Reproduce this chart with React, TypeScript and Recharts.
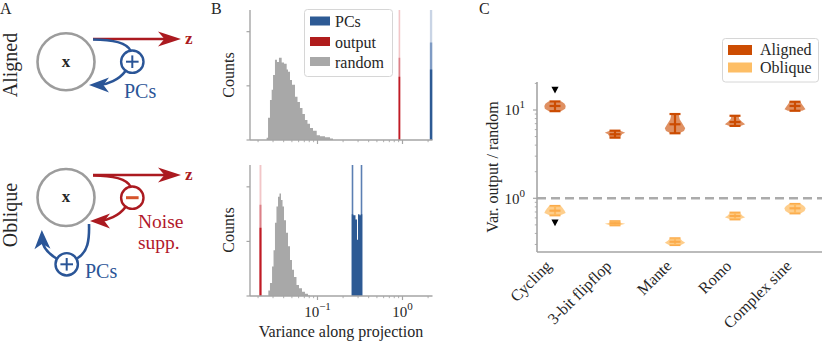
import React from "react";
import { ComposedChart, Area, Scatter, ErrorBar, XAxis, YAxis, ReferenceLine } from "recharts";

const FONT = '"Liberation Serif", "Times New Roman", serif';
const INK = "#262626";
const SPINE = "#a5a5a5";
const BLUE = "#2d5a94";
const RED = "#b2182b";
const GRAY = "#a8a8a8";
const ALIGNED = "#cc4c02";
const OBLIQUE = "#fdbe66";
const OBLIQUE_LINE = "#fbab4b";

// ---------- panel B: variance along projections (log x, counts y)
const B_TICKS = [0.02, 0.03, 0.04, 0.05, 0.06, 0.07, 0.08, 0.09, 0.1, 0.2, 0.3, 0.4, 0.5, 0.6, 0.7, 0.8, 0.9, 1, 2];
const B_MAJOR = [0.1, 1];
const B_EXP = ["\u22121", "0"];
const COUNT_TICKS = [0, 100, 200];

// bin left edges, counts (last edge closes the histogram)
const RANDOM_TOP_EDGES = [0.0252, 0.0262, 0.0276, 0.0289, 0.03, 0.0316, 0.0334, 0.0352, 0.0379, 0.0404, 0.0434, 0.045, 0.0475, 0.0501, 0.0544, 0.0582, 0.0622, 0.0666, 0.0712, 0.0762, 0.0816, 0.0885, 0.0979, 0.107, 0.1225, 0.1403, 0.1522];
const RANDOM_TOP_COUNTS = [4, 41, 74, 93, 120, 148, 144, 152, 143, 141, 130, 126, 111, 102, 80, 70, 59, 48, 37, 30, 22, 17, 9, 7, 5, 3, 0];
const OUTPUT_TOP_EDGES = [0.9, 0.94];
const OUTPUT_TOP_LIGHT = [240, 0];
const OUTPUT_TOP_MID = [152, 0];
const OUTPUT_TOP_DARK = [117, 0];
const PCS_TOP_EDGES = [2.1, 2.25];
const PCS_TOP_LIGHT = [240, 0];
const PCS_TOP_MID = [180, 0];
const PCS_TOP_DARK = [130, 0];

const RANDOM_BOT_EDGES = [0.0264, 0.0276, 0.0292, 0.0304, 0.0316, 0.0329, 0.0343, 0.0357, 0.0372, 0.0388, 0.0404, 0.0426, 0.045, 0.0475, 0.0501, 0.0529, 0.0566, 0.0606, 0.0657, 0.0712, 0.0773, 0.0816];
const RANDOM_BOT_COUNTS = [10, 24, 54, 84, 134, 164, 182, 188, 176, 164, 139, 116, 91, 66, 48, 35, 20, 14, 8, 4, 1, 0];
const OUTPUT_BOT_EDGES = [0.0208, 0.0219];
const OUTPUT_BOT_LIGHT = [240, 0];
const OUTPUT_BOT_MID = [167, 0];
const OUTPUT_BOT_DARK = [125, 0];
const PCS_BOT_SPIKE_EDGES = [0.2526, 0.2638, 0.3224, 0.3367];
const PCS_BOT_SPIKE_COUNTS = [240, 0, 240, 0];
const PCS_BOT_EDGES = [0.2526, 0.2638, 0.28, 0.2917, 0.2997, 0.3122, 0.3224, 0.3367];
const PCS_BOT_COUNTS = [150, 148, 140, 103, 150, 148, 150, 0];

// ---------- panel C: var(output) / var(random) per task
const TASKS = ["Cycling", "3-bit flipflop", "Mante", "Romo", "Complex sine"];
const TASK_TICKS = [0, 1, 2, 3, 4];
const C_TICKS = [0.3, 0.4, 0.5, 0.6, 0.7, 0.8, 0.9, 1, 2, 3, 4, 5, 6, 7, 8, 9, 10, 20];
const C_MAJOR = [1, 10];
const C_EXP = ["0", "1"];

const ALIGNED_MIN = [9.7, 4.86, 5.45, 6.6, 9.8];
const ALIGNED_MED = [11.1, 5.31, 6.89, 7.31, 11.1];
const ALIGNED_MAX = [12.5, 5.83, 9.0, 8.6, 12.4];
const OBLIQUE_MIN = [0.642, 0.495, 0.296, 0.578, 0.676];
const OBLIQUE_MED = [0.724, 0.521, 0.322, 0.63, 0.77];
const OBLIQUE_MAX = [0.818, 0.549, 0.352, 0.687, 0.862];

// violin outlines: levels bottom -> top and density half-widths
const ALIGNED_LEVELS = [
  [9.7, 10.3, 11.1, 11.8, 12.5],
  [4.86, 5.1, 5.35, 5.53, 5.7, 5.83],
  [5.45, 5.8, 6.2, 6.9, 7.8, 9.0],
  [6.6, 6.9, 7.3, 7.9, 8.6],
  [9.8, 10.2, 11.0, 11.8, 12.4],
];
const ALIGNED_WIDTHS = [
  [0.1, 0.17, 0.178, 0.16, 0.11],
  [0.083, 0.1, 0.12, 0.17, 0.12, 0.083],
  [0.07, 0.15, 0.17, 0.13, 0.08, 0.06],
  [0.09, 0.17, 0.12, 0.07, 0.06],
  [0.12, 0.175, 0.14, 0.11, 0.09],
];
const OBLIQUE_LEVELS = [
  [0.642, 0.68, 0.724, 0.77, 0.818],
  [0.495, 0.515, 0.53, 0.549],
  [0.296, 0.314, 0.33, 0.352],
  [0.578, 0.609, 0.63, 0.687],
  [0.676, 0.72, 0.77, 0.82, 0.862],
];
const OBLIQUE_WIDTHS = [
  [0.09, 0.178, 0.16, 0.13, 0.1],
  [0.08, 0.17, 0.09, 0.08],
  [0.1, 0.17, 0.12, 0.08],
  [0.08, 0.17, 0.13, 0.08],
  [0.1, 0.16, 0.178, 0.15, 0.1],
];
const MARK_X = [0, 0];
const MARK_Y = [16.85, 0.529];

const hist = (edges: number[], counts: number[]) => edges.map((x, i) => ({ x, n: counts[i] }));

function outline(i: number, levels: number[], widths: number[]) {
  const right = levels.map((y, k) => ({ x: i + widths[k], y }));
  const left = levels.map((y, k) => ({ x: i - widths[k], y })).reverse();
  return [...right, ...left];
}

function stats(mins: number[], meds: number[], maxs: number[]) {
  return meds.map((m, i) => ({ x: i, y: m, err: [m - mins[i], maxs[i] - m] }));
}

const noShape = () => <g />;

function XLogTick(props: any) {
  const { x, y, payload, labels } = props;
  const k = B_MAJOR.indexOf(payload.value);
  return (
    <g>
      <line x1={x} x2={x} y1={y} y2={y + (k >= 0 ? 4 : 2.2)} stroke={SPINE} strokeWidth={k >= 0 ? 1.2 : 0.9} />
      {labels && k >= 0 && (
        <text x={x} y={y + 21} textAnchor="middle" fill={INK} fontFamily={FONT} fontSize={15}>
          10<tspan dy={-7} fontSize={11}>{B_EXP[k]}</tspan>
        </text>
      )}
    </g>
  );
}

function CountTick(props: any) {
  const { x, y } = props;
  return <line x1={x} x2={x - 3.5} y1={y} y2={y} stroke={SPINE} strokeWidth={1.2} />;
}

function CYTick(props: any) {
  const { x, y, payload } = props;
  const k = C_MAJOR.indexOf(payload.value);
  return (
    <g>
      <line x1={x} x2={x - (k >= 0 ? 4 : 2.2)} y1={y} y2={y} stroke={SPINE} strokeWidth={k >= 0 ? 1.2 : 0.9} />
      {k >= 0 && (
        <text x={x - 12} y={y + 5.5} textAnchor="end" fill={INK} fontFamily={FONT} fontSize={15}>
          10<tspan dy={-7} fontSize={11}>{C_EXP[k]}</tspan>
        </text>
      )}
    </g>
  );
}

function TaskTick(props: any) {
  const { x, y, payload } = props;
  const ax = x - 2.5;
  const ay = y + 15;
  return (
    <text x={ax} y={ay} transform={`rotate(-45 ${ax} ${ay})`} textAnchor="end" fill={INK} fontFamily={FONT} fontSize={16}>
      {TASKS[payload.value]}
    </text>
  );
}

type Layer = { data: { x: number; n: number }[]; fill: string };

function HistChart({ top, height, xHeight, labels, layers }: { top: number; height: number; xHeight: number; labels: boolean; layers: Layer[] }) {
  return (
    <div style={{ position: "absolute", left: 200, top }}>
      <ComposedChart width={241} height={height} margin={{ top: 10, right: 8.5, bottom: 0, left: 0 }}>
        <XAxis
          type="number"
          dataKey="x"
          scale="log"
          domain={[0.01607, 2.254]}
          allowDataOverflow
          ticks={B_TICKS}
          interval={0}
          tickLine={false}
          tickSize={0}
          tickMargin={0}
          height={xHeight}
          axisLine={{ stroke: SPINE, strokeWidth: 1.4 }}
          tick={(p: any) => <XLogTick {...p} labels={labels} />}
        />
        <YAxis
          type="number"
          domain={[0, 240]}
          allowDataOverflow
          ticks={COUNT_TICKS}
          interval={0}
          width={50}
          tickLine={false}
          tickSize={0}
          tickMargin={0}
          axisLine={{ stroke: SPINE, strokeWidth: 1.4 }}
          tick={CountTick}
        />
        {layers.map((l, i) => (
          <Area key={i} data={l.data} dataKey="n" type="stepAfter" fill={l.fill} fillOpacity={1} stroke="none" isAnimationActive={false} legendType="none" />
        ))}
      </ComposedChart>
    </div>
  );
}

const TOP_LAYERS: Layer[] = [
  { data: hist(RANDOM_TOP_EDGES, RANDOM_TOP_COUNTS), fill: GRAY },
  { data: hist(OUTPUT_TOP_EDGES, OUTPUT_TOP_LIGHT), fill: "#f2c6c8" },
  { data: hist(OUTPUT_TOP_EDGES, OUTPUT_TOP_MID), fill: "#dc8088" },
  { data: hist(OUTPUT_TOP_EDGES, OUTPUT_TOP_DARK), fill: "#c01b25" },
  { data: hist(PCS_TOP_EDGES, PCS_TOP_LIGHT), fill: "#c9d4e5" },
  { data: hist(PCS_TOP_EDGES, PCS_TOP_MID), fill: "#7f9bc4" },
  { data: hist(PCS_TOP_EDGES, PCS_TOP_DARK), fill: BLUE },
];

const BOT_LAYERS: Layer[] = [
  { data: hist(RANDOM_BOT_EDGES, RANDOM_BOT_COUNTS), fill: GRAY },
  { data: hist(OUTPUT_BOT_EDGES, OUTPUT_BOT_LIGHT), fill: "#f2c6c8" },
  { data: hist(OUTPUT_BOT_EDGES, OUTPUT_BOT_MID), fill: "#dc8088" },
  { data: hist(OUTPUT_BOT_EDGES, OUTPUT_BOT_DARK), fill: "#c01b25" },
  { data: hist(PCS_BOT_SPIKE_EDGES, PCS_BOT_SPIKE_COUNTS), fill: "#5b7fb3" },
  { data: hist(PCS_BOT_EDGES, PCS_BOT_COUNTS), fill: BLUE },
];

function MedianMark(color: string) {
  return (p: any) => <line x1={p.cx - 5.5} x2={p.cx + 5.5} y1={p.cy} y2={p.cy} stroke={color} strokeWidth={2.2} />;
}

function DownTri(p: any) {
  return <polygon points={`${p.cx - 3.6},${p.cy - 3.3} ${p.cx + 3.6},${p.cy - 3.3} ${p.cx},${p.cy + 3.6}`} fill="#000" />;
}

function RatioChart() {
  return (
    <div style={{ position: "absolute", left: 480, top: 0 }}>
      <ComposedChart width={351} height={348} margin={{ top: 82, right: 9, bottom: 0, left: 0 }}>
        <XAxis
          type="number"
          dataKey="x"
          domain={[-0.3, 4.45]}
          allowDataOverflow
          ticks={TASK_TICKS}
          interval={0}
          tickLine={false}
          tickSize={0}
          tickMargin={0}
          height={96}
          axisLine={{ stroke: SPINE, strokeWidth: 1.6 }}
          tick={TaskTick}
        />
        <YAxis
          type="number"
          dataKey="y"
          scale="log"
          domain={[0.2465, 20.75]}
          allowDataOverflow
          ticks={C_TICKS}
          interval={0}
          width={57}
          tickLine={false}
          tickSize={0}
          tickMargin={0}
          axisLine={{ stroke: SPINE, strokeWidth: 1.6 }}
          tick={CYTick}
        />
        <ReferenceLine y={1} stroke="#ababab" strokeWidth={2.4} strokeDasharray="9 5" />
        {ALIGNED_LEVELS.map((lv, i) => (
          <Scatter
            key={"a" + i}
            data={outline(i, lv, ALIGNED_WIDTHS[i])}
            fill={ALIGNED}
            line={{ fill: ALIGNED, fillOpacity: 0.62, stroke: "none" }}
            lineType="joint"
            lineJointType="linearClosed"
            shape={noShape}
            isAnimationActive={false}
            legendType="none"
          />
        ))}
        {OBLIQUE_LEVELS.map((lv, i) => (
          <Scatter
            key={"o" + i}
            data={outline(i, lv, OBLIQUE_WIDTHS[i])}
            fill={OBLIQUE}
            line={{ fill: OBLIQUE, fillOpacity: 0.75, stroke: "none" }}
            lineType="joint"
            lineJointType="linearClosed"
            shape={noShape}
            isAnimationActive={false}
            legendType="none"
          />
        ))}
        <Scatter data={stats(ALIGNED_MIN, ALIGNED_MED, ALIGNED_MAX)} shape={MedianMark(ALIGNED)} isAnimationActive={false} legendType="none">
          <ErrorBar dataKey="err" direction="y" width={5.5} stroke={ALIGNED} strokeWidth={2.2} isAnimationActive={false} />
        </Scatter>
        <Scatter data={stats(OBLIQUE_MIN, OBLIQUE_MED, OBLIQUE_MAX)} shape={MedianMark(OBLIQUE_LINE)} isAnimationActive={false} legendType="none">
          <ErrorBar dataKey="err" direction="y" width={5.5} stroke={OBLIQUE_LINE} strokeWidth={2.2} isAnimationActive={false} />
        </Scatter>
        <Scatter data={MARK_X.map((x, i) => ({ x, y: MARK_Y[i] }))} shape={DownTri} isAnimationActive={false} legendType="none" />
      </ComposedChart>
    </div>
  );
}

function Head({ x, y, angle, color, len = 21, half = 7.5 }: { x: number; y: number; angle: number; color: string; len?: number; half?: number }) {
  const a = (angle * Math.PI) / 180;
  const c = Math.cos(a);
  const s = Math.sin(a);
  const pt = (u: number, v: number) => `${x + u * c - v * s},${y + u * s + v * c}`;
  return <polygon points={[pt(0, 0), pt(-len, -half), pt(-len * 0.72, 0), pt(-len, half)].join(" ")} fill={color} />;
}

const DBLUE = "#2a5597";
const DRED = "#ab1a20";

function Overlay() {
  const t = { fontFamily: FONT, fill: INK };
  return (
    <svg width={831} height={348} style={{ position: "absolute", left: 0, top: 0, pointerEvents: "none" }}>
      {/* panel letters */}
      <text x={0} y={13.5} fontSize={16} {...t}>A</text>
      <text x={211} y={13.5} fontSize={16} {...t}>B</text>
      <text x={479} y={13.5} fontSize={16} {...t}>C</text>

      {/* panel A: aligned */}
      <text x={16.5} y={65} fontSize={20} textAnchor="middle" transform="rotate(-90 16.5 65)" {...t}>Aligned</text>
      <circle cx={66} cy={61.7} r={28.5} fill="none" stroke="#9c9c9c" strokeWidth={2.6} />
      <text x={66} y={66.5} fontSize={17} fontWeight="bold" textAnchor="middle" {...t}>x</text>
      <line x1={93} y1={39} x2={170} y2={39} stroke={DRED} strokeWidth={2.6} />
      <Head x={181} y={39} angle={0} color={DRED} len={23} />
      <text x={185} y={43.5} fontSize={17} fontWeight="bold" fontFamily={FONT} fill={DRED}>z</text>
      <path d="M93 39.5 C112 39.5 126 42 130.5 50.5" fill="none" stroke={DBLUE} strokeWidth={2.6} />
      <circle cx={132.3} cy={61.7} r={11.2} fill="#fff" stroke={DBLUE} strokeWidth={2.4} />
      <line x1={126} x2={138.6} y1={61.7} y2={61.7} stroke={DBLUE} strokeWidth={2} />
      <line x1={132.3} x2={132.3} y1={55.4} y2={68} stroke={DBLUE} strokeWidth={2} />
      <path d="M125.5 71 C119 80 107 84.5 100 84.8" fill="none" stroke={DBLUE} strokeWidth={2.6} />
      <Head x={89} y={85} angle={180} color={DBLUE} len={20} />
      <text x={124} y={97.5} fontSize={20} fontFamily={FONT} fill={DBLUE}>PCs</text>

      {/* panel A: oblique */}
      <text x={16.5} y={215} fontSize={20} textAnchor="middle" transform="rotate(-90 16.5 215)" {...t}>Oblique</text>
      <circle cx={66} cy={197.5} r={28.5} fill="none" stroke="#9c9c9c" strokeWidth={2.6} />
      <text x={66} y={202.3} fontSize={17} fontWeight="bold" textAnchor="middle" {...t}>x</text>
      <line x1={93} y1={175} x2={170} y2={175} stroke={DRED} strokeWidth={2.6} />
      <Head x={181} y={175} angle={0} color={DRED} len={23} />
      <text x={185} y={179.5} fontSize={17} fontWeight="bold" fontFamily={FONT} fill={DRED}>z</text>
      <path d="M93 175.5 C112 175.5 126 178 130.5 186.5" fill="none" stroke={DRED} strokeWidth={2.6} />
      <circle cx={132.3} cy={197.7} r={11.2} fill="#fff" stroke={DRED} strokeWidth={2.4} />
      <line x1={126} x2={138.6} y1={197.7} y2={197.7} stroke="#d6542c" strokeWidth={3} />
      <path d="M125.5 207 C119 216 107 220.5 100 220.8" fill="none" stroke={DRED} strokeWidth={2.6} />
      <Head x={90} y={221} angle={180} color={DRED} len={20} />
      <text x={138} y={228} fontSize={19.5} fontFamily={FONT} fill={RED}>Noise</text>
      <text x={138} y={248.5} fontSize={19.5} fontFamily={FONT} fill={RED}>supp.</text>
      <path d="M89 224 C89.5 240 88 252 77 258.5" fill="none" stroke={DBLUE} strokeWidth={2.6} />
      <circle cx={66.7} cy={264.3} r={11.2} fill="#fff" stroke={DBLUE} strokeWidth={2.4} />
      <line x1={60.4} x2={73} y1={264.3} y2={264.3} stroke={DBLUE} strokeWidth={2} />
      <line x1={66.7} x2={66.7} y1={258} y2={270.6} stroke={DBLUE} strokeWidth={2} />
      <path d="M56.5 258.5 C46 252 42.5 246 42.3 240" fill="none" stroke={DBLUE} strokeWidth={2.6} />
      <Head x={41.8} y={230} angle={-92} color={DBLUE} len={19} half={8} />
      <text x={85} y={278} fontSize={20} fontFamily={FONT} fill={DBLUE}>PCs</text>

      {/* panel B labels and legend */}
      <text x={233.5} y={75} fontSize={16} textAnchor="middle" transform="rotate(-90 233.5 75)" {...t}>Counts</text>
      <text x={233.5} y={230} fontSize={16} textAnchor="middle" transform="rotate(-90 233.5 230)" {...t}>Counts</text>
      <text x={341} y={336.5} fontSize={16} textAnchor="middle" {...t}>Variance along projection</text>
      <rect x={304.5} y={9.5} width={88} height={67} rx={3} fill="#fff" fillOpacity={0.85} stroke="#d6d6d6" />
      <rect x={310} y={16.5} width={20} height={9} fill={BLUE} />
      <rect x={310} y={37} width={20} height={9} fill="#b01c1c" />
      <rect x={310} y={57} width={20} height={9} fill={GRAY} />
      <text x={335} y={27} fontSize={16} {...t}>PCs</text>
      <text x={335} y={47.5} fontSize={16} {...t}>output</text>
      <text x={335} y={67.5} fontSize={16} {...t}>random</text>

      {/* panel C labels and legend */}
      <text x={497.5} y={167} fontSize={16} textAnchor="middle" transform="rotate(-90 497.5 167)" {...t}>Var. output / random</text>
      <rect x={722.5} y={38.5} width={96} height={43.5} rx={3} fill="#fff" fillOpacity={0.85} stroke="#d6d6d6" />
      <rect x={728} y={45} width={24} height={10} fill={ALIGNED} />
      <rect x={728} y={62.5} width={24} height={10} fill={OBLIQUE} />
      <text x={760} y={55} fontSize={16} {...t}>Aligned</text>
      <text x={760} y={72.5} fontSize={16} {...t}>Oblique</text>
    </svg>
  );
}

export default function App() {
  return (
    <div style={{ position: "absolute", left: 0, top: 0, width: 831, height: 348, background: "#fff", overflow: "hidden", fontFamily: FONT }}>
      <HistChart top={0} height={150} xHeight={10} labels={false} layers={TOP_LAYERS} />
      <HistChart top={155} height={193} xHeight={52} labels={true} layers={BOT_LAYERS} />
      <RatioChart />
      <Overlay />
    </div>
  );
}
